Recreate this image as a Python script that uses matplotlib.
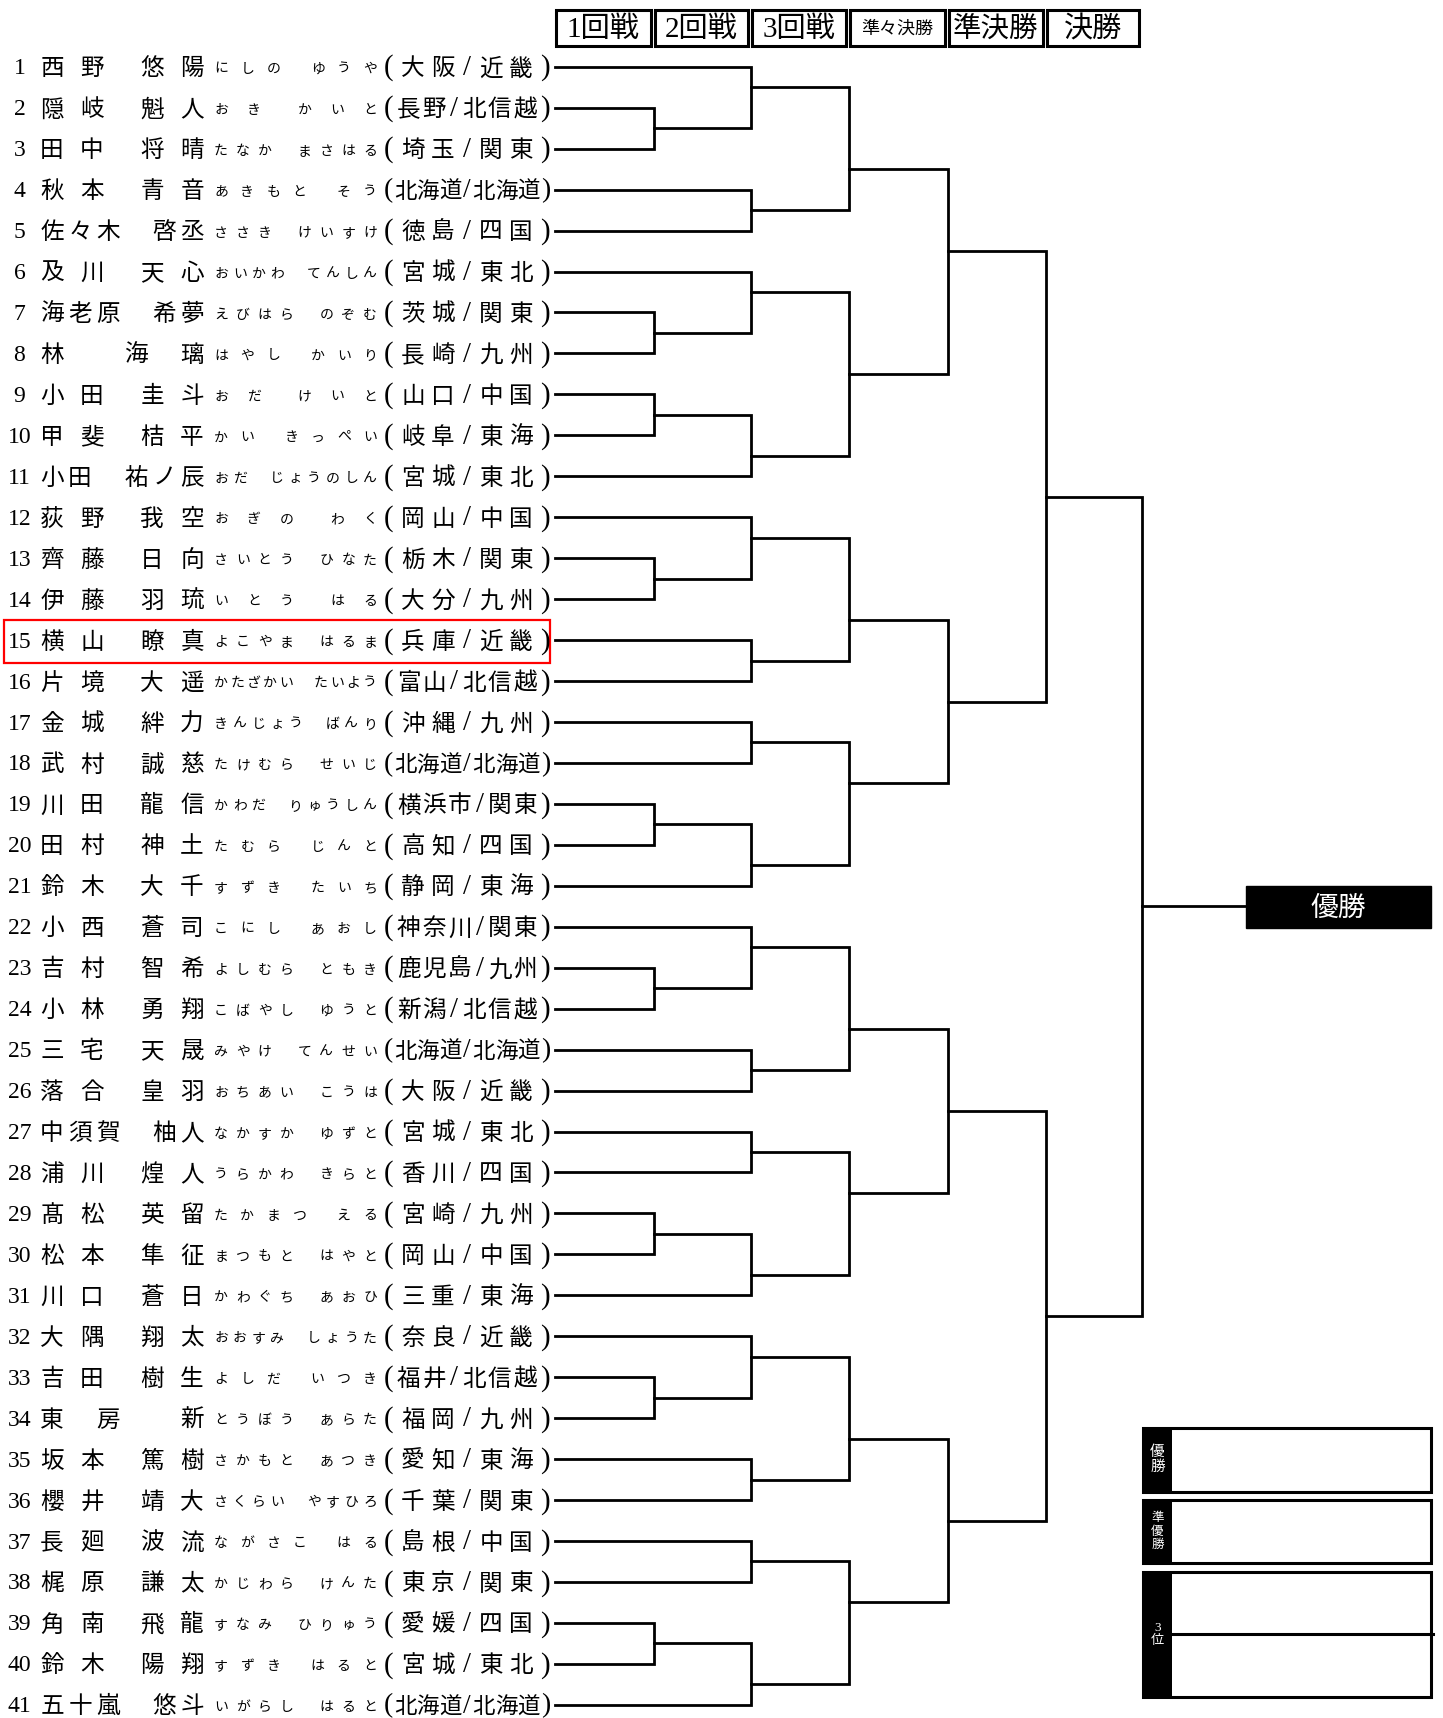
import matplotlib
matplotlib.use("Agg")
import matplotlib.pyplot as plt
from matplotlib.patches import Rectangle

plt.rcParams['font.family'] = ['Liberation Serif', 'Noto Sans CJK JP', 'DejaVu Sans']

# ---------------- data ----------------
entry_numbers = list(range(1, 42))
surnames = ["西野", "隠岐", "田中", "秋本", "佐々木", "及川", "海老原", "林", "小田", "甲斐",
            "小田", "荻野", "齊藤", "伊藤", "横山", "片境", "金城", "武村", "川田", "田村",
            "鈴木", "小西", "吉村", "小林", "三宅", "落合", "中須賀", "浦川", "髙松", "松本",
            "川口", "大隅", "吉田", "東房", "坂本", "櫻井", "長廻", "梶原", "角南", "鈴木",
            "五十嵐"]
given_names = ["悠陽", "魁人", "将晴", "青音", "啓丞", "天心", "希夢", "海璃", "圭斗", "桔平",
               "祐ノ辰", "我空", "日向", "羽琉", "瞭真", "大遥", "絆力", "誠慈", "龍信", "神土",
               "大千", "蒼司", "智希", "勇翔", "天晟", "皇羽", "柚人", "煌人", "英留", "隼征",
               "蒼日", "翔太", "樹生", "新", "篤樹", "靖大", "波流", "謙太", "飛龍", "陽翔",
               "悠斗"]
surname_kana = ["にしの", "おき", "たなか", "あきもと", "ささき", "おいかわ", "えびはら", "はやし", "おだ", "かい",
                "おだ", "おぎの", "さいとう", "いとう", "よこやま", "かたざかい", "きんじょう", "たけむら", "かわだ", "たむら",
                "すずき", "こにし", "よしむら", "こばやし", "みやけ", "おちあい", "なかすか", "うらかわ", "たかまつ", "まつもと",
                "かわぐち", "おおすみ", "よしだ", "とうぼう", "さかもと", "さくらい", "ながさこ", "かじわら", "すなみ", "すずき",
                "いがらし"]
given_kana = ["ゆうや", "かいと", "まさはる", "そう", "けいすけ", "てんしん", "のぞむ", "かいり", "けいと", "きっぺい",
              "じょうのしん", "わく", "ひなた", "はる", "はるま", "たいよう", "ばんり", "せいじ", "りゅうしん", "じんと",
              "たいち", "あおし", "ともき", "ゆうと", "てんせい", "こうは", "ゆずと", "きらと", "える", "はやと",
              "あおひ", "しょうた", "いつき", "あらた", "あつき", "やすひろ", "はる", "けんた", "ひりゅう", "はると",
              "はると"]
prefectures = ["大阪", "長野", "埼玉", "北海道", "徳島", "宮城", "茨城", "長崎", "山口", "岐阜",
               "宮城", "岡山", "栃木", "大分", "兵庫", "富山", "沖縄", "北海道", "横浜市", "高知",
               "静岡", "神奈川", "鹿児島", "新潟", "北海道", "大阪", "宮城", "香川", "宮崎", "岡山",
               "三重", "奈良", "福井", "福岡", "愛知", "千葉", "島根", "東京", "愛媛", "宮城",
               "北海道"]
regions = ["近畿", "北信越", "関東", "北海道", "四国", "東北", "関東", "九州", "中国", "東海",
           "東北", "中国", "関東", "九州", "近畿", "北信越", "九州", "北海道", "関東", "四国",
           "東海", "関東", "九州", "北信越", "北海道", "近畿", "東北", "四国", "九州", "中国",
           "東海", "近畿", "北信越", "九州", "東海", "関東", "中国", "関東", "四国", "東北",
           "北海道"]
round_labels = ["1回戦", "2回戦", "3回戦", "準々決勝", "準決勝", "決勝"]
highlight_entry = 15
champion_label = "優勝"
result_labels = ["優勝", "準優勝", "3位"]

# bracket structure: nested pairs of entry numbers (final -> semi -> quarter -> ...)
bracket = [
    [
        [[[1, [2, 3]], [4, 5]], [[6, [7, 8]], [[9, 10], 11]]],
        [[[12, [13, 14]], [15, 16]], [[17, 18], [[19, 20], 21]]],
    ],
    [
        [[[22, [23, 24]], [25, 26]], [[27, 28], [[29, 30], 31]]],
        [[[32, [33, 34]], [35, 36]], [[37, 38], [[39, 40], 41]]],
    ],
]

# ---------------- layout ----------------
W, H = 1443, 1718
ROW0_PX, ROW_PX = 66.8, 40.95


def py(px):
    return 1 + (px - ROW0_PX) / ROW_PX


fig = plt.figure(figsize=(W / 100, H / 100), dpi=100)
ax = fig.add_axes([0, 0, 1, 1])
ax.set_xlim(0, W)
ax.set_ylim(py(H), py(0))
ax.axis('off')

LW = 2.0
COL_X = [1142, 1046, 947.5, 849, 751, 653.5]
LEAF_X = 555
CJK = ['Noto Sans CJK JP']
SERIF = ['Liberation Serif', 'Noto Sans CJK JP']
TXT_DY = 0.05  # small downward nudge so glyphs sit centred on the row line


def draw(node, depth):
    if isinstance(node, int):
        return LEAF_X, node, node
    top, bot = node
    X = COL_X[depth]
    xt, yt, lt = draw(top, depth + 1)
    xb, yb, lb = draw(bot, depth + 1)
    ax.plot([xt, X, X, xb], [yt, yt, yb, yb], color='black', lw=LW,
            solid_joinstyle='miter', solid_capstyle='projecting')
    return X, lt + 0.5, lb


rx, ry, _ = draw(bracket, 0)
CHAMP_L, CHAMP_R = 1246, 1431
ax.plot([rx, CHAMP_L], [ry, ry], color='black', lw=LW, solid_capstyle='projecting')
ax.add_patch(Rectangle((CHAMP_L, py(886)), CHAMP_R - CHAMP_L, py(928) - py(886),
                       facecolor='black', edgecolor='black'))
ax.text((CHAMP_L + CHAMP_R) / 2, ry + TXT_DY, champion_label, color='white', fontsize=20,
        ha='center', va='center', family=CJK)

# header boxes
edges = [LEAF_X] + COL_X[::-1]
head_sizes = [21, 21, 21, 13, 20.5, 21]
for k, lab in enumerate(round_labels):
    x0 = edges[k] + 1
    x1 = edges[k + 1] - 3
    ax.add_patch(Rectangle((x0, py(9.5)), x1 - x0, py(46) - py(9.5), facecolor='none',
                           edgecolor='black', lw=2.2))
    ax.text((x0 + x1) / 2, py(29.5), lab, fontsize=head_sizes[k], ha='center', va='center',
            family=SERIF)

# entries
NAME_L, NAME_R = 52, 192
KANA_L, KANA_R, KANA_GAP = 221, 370, 18
PREF_L, PREF_R = 383, 551
SP = '\u3000'


def name_cells(s, g):
    if len(s) == 2 and len(g) == 2:
        return [s[0], SP, s[1], SP, SP, g[0], SP, g[1]]
    if len(s) + len(g) == 3:
        if len(s) == 1:
            return [s, SP, SP, g[0], SP, g[1]]
        return [s[0], SP, s[1], SP, SP, g]
    return list(s) + [SP] + list(g)


for i, num in enumerate(entry_numbers):
    y = num + TXT_DY
    ax.text(19.5, y, str(num), fontsize=17, ha='center', va='center', family=['Liberation Serif'])
    cells = name_cells(surnames[i], given_names[i])
    pitch = (NAME_R - NAME_L) / (len(cells) - 1)
    for j, ch in enumerate(cells):
        if ch != SP:
            ax.text(NAME_L + j * pitch, y, ch, fontsize=17, ha='center', va='center', family=CJK)
    sk, gk = surname_kana[i], given_kana[i]
    n = len(sk) + len(gk)
    p = (KANA_R - KANA_L - KANA_GAP) / (n - 1)
    for j, ch in enumerate(sk):
        ax.text(KANA_L + j * p, y, ch, fontsize=10, ha='center', va='center', family=CJK)
    for j, ch in enumerate(gk):
        ax.text(KANA_L + (len(sk) + j) * p + KANA_GAP, y, ch, fontsize=10, ha='center',
                va='center', family=CJK)
    chars = list("(" + prefectures[i] + "/" + regions[i] + ")")
    wts = [0.5 if c in "()/" else 1.0 for c in chars]
    F = 23.6
    avail = PREF_R - PREF_L
    if sum(wts) * F > avail:
        F = avail / sum(wts)
        gap = 0
    else:
        gap = (avail - sum(wts) * F) / (len(chars) - 1)
    x = PREF_L
    for c, w in zip(chars, wts):
        if c in "()/":
            ax.text(x + w * F / 2, y - 0.02, c, fontsize=F * 0.72 * 1.22, ha='center',
                    va='center', family=['Liberation Serif'], fontweight='light')
        else:
            ax.text(x + w * F / 2, y, c, fontsize=F * 0.72, ha='center', va='center', family=CJK)
        x += w * F + gap

# highlight
ax.add_patch(Rectangle((3.5, py(620)), 550 - 3.5, py(662.5) - py(620), facecolor='none',
                       edgecolor='#ff0000', lw=1.6))

# result boxes
RB_L, RB_R, STRIP = 1143, 1431, 1172
box_rows = [(1428, 1492), (1500, 1563), (1572, 1697)]
lab_sizes = [10.5, 9, 9.5]
for (t, b), lab, fs in zip(box_rows, result_labels, lab_sizes):
    ax.add_patch(Rectangle((RB_L, py(t)), STRIP - RB_L, py(b) - py(t), facecolor='black',
                           edgecolor='none'))
    ax.add_patch(Rectangle((RB_L, py(t)), RB_R - RB_L, py(b) - py(t), facecolor='none',
                           edgecolor='black', lw=2.2))
    ax.text((RB_L + STRIP) / 2, py((t + b) / 2), "\n".join(lab), color='white', fontsize=fs,
            ha='center', va='center', family=SERIF, linespacing=1.15)
ax.plot([STRIP, RB_R + 2], [py(1634), py(1634)], color='black', lw=2.2)

fig.savefig("out.png", dpi=100, facecolor='white')
